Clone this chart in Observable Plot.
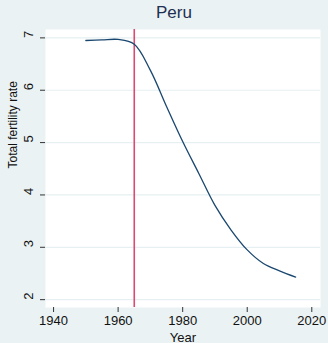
<!DOCTYPE html>
<html>
<head>
<meta charset="utf-8">
<script src="https://cdn.jsdelivr.net/npm/d3@7"></script>
<script src="https://cdn.jsdelivr.net/npm/@observablehq/plot@0.6"></script>
<style>
  html, body { margin: 0; padding: 0; background: #eaf2f3; }
  #wrap { width: 328px; height: 343px; background: #eaf2f3; font-family: "Liberation Sans", Arial, sans-serif; }
  #title { height: 22px; line-height: 26px; font-size: 17px; color: #1e2f52; text-align: center; padding-left: 20px; box-sizing: border-box; }
</style>
</head>
<body>
<div id="wrap">
  <div id="title">Peru</div>
  <div id="chart"></div>
</div>
<script>
const titleText = "Peru";
const years = [1950, 1955, 1960, 1965, 1970, 1975, 1980, 1985, 1990, 1995, 2000, 2005, 2010, 2015];
const tfr   = [6.95, 6.96, 6.97, 6.88, 6.38, 5.69, 5.02, 4.41, 3.80, 3.33, 2.95, 2.69, 2.55, 2.43];
const markerYear = [1965];
const xTicks = [1940, 1960, 1980, 2000, 2020];
const yTicks = [2, 3, 4, 5, 6, 7];
const xLabel = "Year";
const yLabel = "Total fertility rate";

const data = years.map((y, i) => ({year: y, tfr: tfr[i]}));

const chart = Plot.plot({
  width: 328,
  height: 321,
  marginTop: 7,
  marginBottom: 36,
  marginLeft: 45,
  marginRight: 8,
  style: {background: "transparent", fontFamily: "Liberation Sans, Arial, sans-serif", fontSize: "13px", color: "#111"},
  x: {domain: [1937.5, 2022.7]},
  y: {domain: [1.85, 7.16]},
  marks: [
    Plot.frame({fill: "white", stroke: null}),
    Plot.gridY(yTicks, {stroke: "#e6eff1", strokeOpacity: 1, strokeWidth: 1.2}),
    Plot.ruleX(markerYear, {stroke: "#dc4a72", strokeWidth: 1.6}),
    Plot.line(data, {x: "year", y: "tfr", stroke: "#1a476f", strokeWidth: 1.3, curve: "catmull-rom"}),
    Plot.axisX(xTicks, {line: true, tickSize: 5, tickPadding: 3, tickFormat: d => String(d), stroke: "#333", label: null, fontSize: 13, fill: "#111"}),
    Plot.axisY(yTicks, {line: true, tickSize: 5, text: null, stroke: "#333", label: null}),
    Plot.text(yTicks, {y: d => d, text: d => String(d), frameAnchor: "left", dx: -17, rotate: -90, fontSize: 13, fill: "#111"}),
    Plot.text([xLabel], {frameAnchor: "bottom", dy: 34, fontSize: 13, fill: "#111"}),
    Plot.text([yLabel], {frameAnchor: "left", dx: -32, rotate: -90, fontSize: 12, fill: "#111"})
  ]
});
document.getElementById("chart").appendChild(chart);
</script>
</body>
</html>
